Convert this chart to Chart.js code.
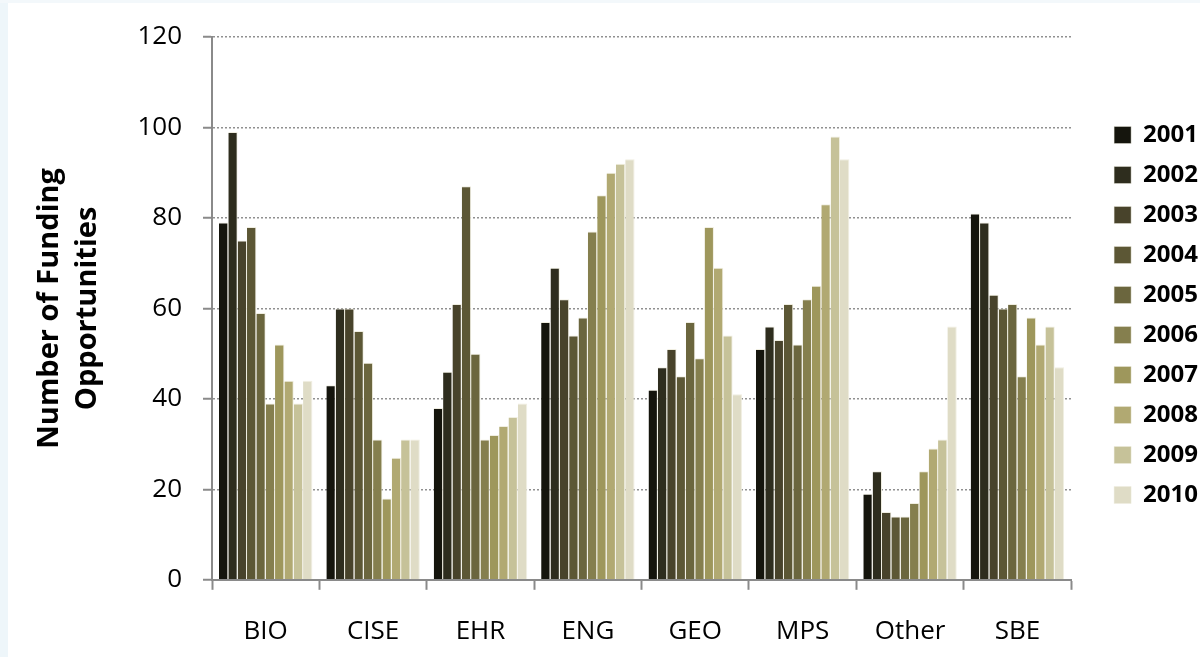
<!DOCTYPE html>
<html>
<head>
<meta charset="utf-8">
<script src="https://cdn.jsdelivr.net/npm/chart.js@4/dist/chart.umd.min.js"></script>
<style>
  html, body { margin: 0; padding: 0; background: #fff; }
  #wrap { position: relative; width: 1200px; height: 657px; overflow: hidden; }
  .edge-left { position: absolute; left: 0; top: 0; width: 8px; height: 657px; background: #eef6fa; }
  .edge-top { position: absolute; left: 0; top: 0; width: 1200px; height: 3px; background: #f3f8fb; }
  canvas { position: absolute; left: 0; top: 0; }
</style>
</head>
<body>
<div id="wrap">
  <div class="edge-left"></div>
  <div class="edge-top"></div>
  <canvas id="chart" width="1200" height="657"></canvas>
</div>
<script>
// directorates along the x axis
const directorates = ["BIO", "CISE", "EHR", "ENG", "GEO", "MPS", "Other", "SBE"];
const years = ["2001", "2002", "2003", "2004", "2005", "2006", "2007", "2008", "2009", "2010"];

// funding opportunities per year, one value per directorate
const y2001 = [79, 43, 38, 57, 42, 51, 19, 81];
const y2002 = [99, 60, 46, 69, 47, 56, 24, 79];
const y2003 = [75, 60, 61, 62, 51, 53, 15, 63];
const y2004 = [78, 55, 87, 54, 45, 61, 14, 60];
const y2005 = [59, 48, 50, 58, 57, 52, 14, 61];
const y2006 = [39, 31, 31, 77, 49, 62, 17, 45];
const y2007 = [52, 18, 32, 85, 78, 65, 24, 58];
const y2008 = [44, 27, 34, 90, 69, 83, 29, 52];
const y2009 = [39, 31, 36, 92, 54, 98, 31, 56];
const y2010 = [44, 31, 39, 93, 41, 93, 56, 47];

const yearValues = [y2001, y2002, y2003, y2004, y2005, y2006, y2007, y2008, y2009, y2010];
const yearColors = ["#15150d", "#2e2d1e", "#48432b", "#5c5735", "#6b663e",
                    "#857f4e", "#9e975c", "#b1a972", "#c6c299", "#dfdcc6"];

const datasets = years.map((yr, i) => ({
  label: yr,
  data: yearValues[i],
  backgroundColor: yearColors[i],
  borderColor: "rgba(238,236,222,0.9)",
  borderWidth: { top: 1, right: 1, left: 0, bottom: 0 },
  borderSkipped: "bottom",
  categoryPercentage: 0.87,
  barPercentage: 1.0,
  yAxisID: "y"
}));

const axisGray = "#8a8a8a";
const textFont = "'Open Sans', 'DejaVu Sans', sans-serif";

new Chart(document.getElementById("chart"), {
  type: "bar",
  data: { labels: directorates, datasets: datasets },
  options: {
    responsive: false,
    animation: false,
    layout: { padding: { left: 31, right: -8, top: 37, bottom: -16 } },
    plugins: {
      tooltip: { enabled: false },
      legend: {
        position: "right",
        align: "start",
        // empty title used as a spacer above the first entry
        title: { display: true, text: " ", font: { size: 10, lineHeight: 1 }, padding: { top: 60, bottom: 0 } },
        labels: {
          boxWidth: 17,
          boxHeight: 17,
          padding: 16,
          color: "#000",
          font: { family: textFont, size: 24, weight: "bold" }
        }
      }
    },
    scales: {
      x: {
        grid: {
          display: true,
          drawOnChartArea: false,
          drawTicks: true,
          tickLength: 10,
          tickColor: axisGray,
          tickWidth: 2,
          offset: true
        },
        border: { display: true, color: axisGray, width: 2 },
        ticks: {
          color: "#000",
          padding: 26,
          font: { family: textFont, size: 26 }
        }
      },
      y: {
        min: 0,
        max: 120,
        afterFit: (scale) => { scale.width = 212 - 31; },
        ticks: {
          stepSize: 20,
          color: "#000",
          padding: 21,
          font: { family: textFont, size: 26 }
        },
        grid: {
          color: "#909090",
          lineWidth: 1.5,
          drawTicks: true,
          tickLength: 9,
          tickColor: axisGray,
          tickWidth: 2,
          tickBorderDash: []
        },
        border: { display: true, color: axisGray, width: 2, dash: [2, 2] },
        title: {
          display: true,
          text: ["Number of Funding", "Opportunities"],
          color: "#000",
          padding: { top: 0, bottom: 0 },
          font: { family: textFont, size: 29, weight: "bold", lineHeight: 1.3 }
        }
      },
      // blank axis that keeps a gap between the plot and the legend
      gap: {
        type: "linear",
        position: "right",
        display: true,
        afterFit: (scale) => { scale.width = 27; },
        grid: { display: false },
        border: { display: false },
        ticks: { display: false }
      }
    }
  }
});
</script>
</body>
</html>
